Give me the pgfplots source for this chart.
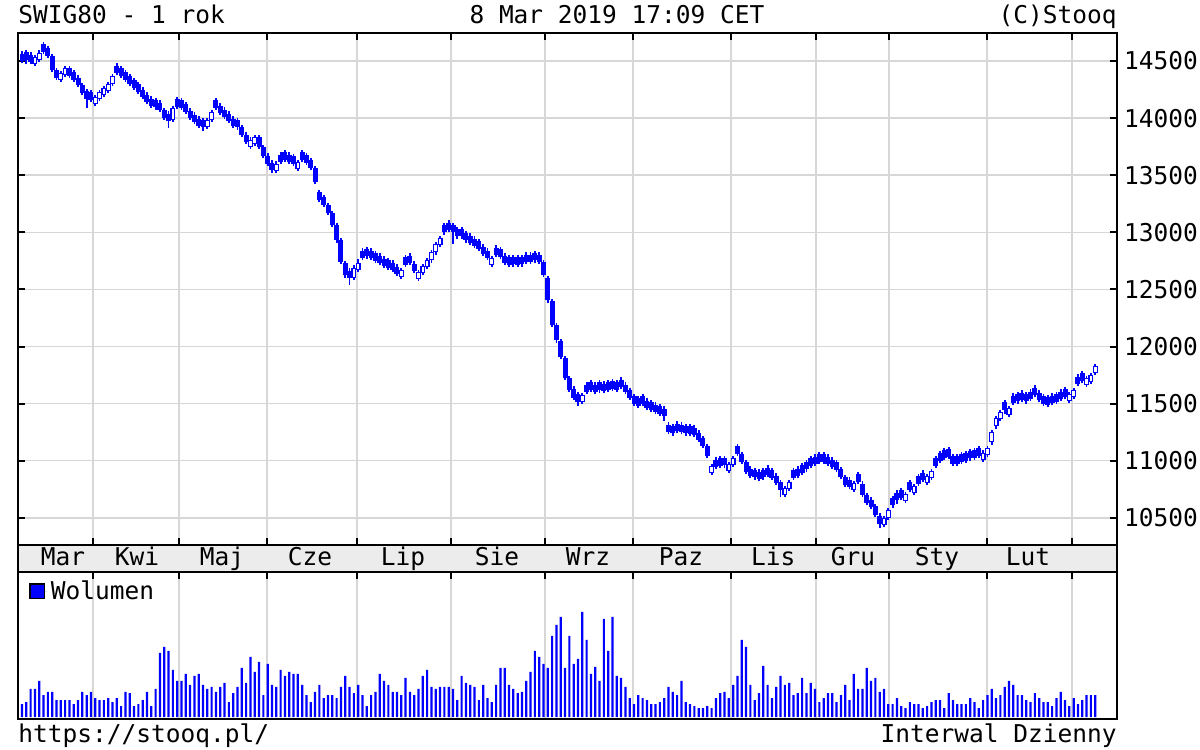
\documentclass[border=0pt]{standalone}
\usepackage{pgfplots}
\pgfplotsset{compat=1.18}
\usepackage{pgfplotstable}
\usepackage{fontspec}
\setmainfont{DejaVu Sans Mono}
\setmonofont{DejaVu Sans Mono}
\newcommand\stq{\fontsize{12.25pt}{14pt}\selectfont}
\definecolor{gridc}{RGB}{215,215,215}
\definecolor{stripc}{RGB}{236,236,236}

\pgfplotstableread{
i o h l c v
0 14565 14585 14480 14500 13
1 14575 14595 14470 14510 15
2 14555 14575 14470 14490 28
3 14475 14555 14455 14535 28
4 14510 14600 14490 14570 36
5 14645 14665 14560 14580 22
6 14610 14630 14525 14545 25
7 14540 14560 14400 14420 25
8 14420 14440 14330 14350 17
9 14335 14415 14315 14395 17
10 14380 14460 14360 14440 17
11 14440 14460 14350 14370 17
12 14400 14420 14315 14335 13
13 14355 14375 14270 14290 17
14 14290 14310 14200 14220 25
15 14235 14255 14090 14170 22
16 14225 14245 14140 14160 25
17 14125 14205 14105 14185 19
18 14170 14250 14150 14230 17
19 14205 14285 14185 14265 17
20 14240 14320 14220 14300 19
21 14300 14390 14280 14370 15
22 14460 14480 14375 14395 19
23 14435 14455 14350 14370 11
24 14400 14420 14315 14335 25
25 14365 14385 14280 14300 24
26 14330 14350 14245 14265 11
27 14295 14315 14210 14230 13
28 14250 14270 14165 14185 17
29 14205 14225 14120 14140 25
30 14170 14190 14085 14105 11
31 14160 14180 14075 14095 28
32 14135 14155 14050 14070 64
33 14070 14090 13980 14000 70
34 14040 14060 13915 13975 66
35 13985 14110 13965 14090 47
36 14165 14185 14080 14100 36
37 14155 14175 14070 14090 36
38 14120 14140 14035 14055 43
39 14065 14085 13980 14000 32
40 14030 14050 13945 13965 41
41 13995 14015 13910 13930 43
42 13985 14005 13890 13920 32
43 13925 14005 13905 13985 28
44 13985 14075 13965 14055 30
45 14155 14175 14070 14090 25
46 14110 14130 14025 14045 30
47 14075 14095 13990 14010 34
48 14040 14060 13955 13975 15
49 13995 14015 13910 13930 24
50 13985 14005 13900 13920 30
51 13920 13940 13830 13850 49
52 13855 13875 13770 13790 34
53 13750 13830 13730 13810 60
54 13775 13855 13755 13835 45
55 13830 13850 13725 13745 55
56 13745 13765 13650 13670 22
57 13670 13690 13580 13600 53
58 13610 13630 13515 13545 32
59 13540 13620 13520 13600 30
60 13680 13700 13595 13615 47
61 13700 13720 13615 13635 41
62 13680 13700 13595 13615 45
63 13665 13685 13580 13600 43
64 13555 13635 13535 13615 43
65 13700 13720 13615 13635 32
66 13675 13695 13590 13610 22
67 13630 13650 13545 13565 15
68 13560 13580 13420 13440 25
69 13350 13370 13265 13285 32
70 13305 13325 13220 13240 19
71 13240 13260 13150 13170 22
72 13170 13190 13045 13065 22
73 13060 13080 12910 12930 19
74 12930 12950 12720 12740 30
75 12730 12750 12600 12625 41
76 12665 12685 12540 12600 30
77 12600 12710 12580 12690 24
78 12670 12770 12650 12730 32
79 12840 12860 12755 12775 22
80 12855 12875 12770 12790 11
81 12840 12860 12755 12775 22
82 12815 12835 12730 12750 25
83 12795 12815 12710 12730 43
84 12770 12790 12685 12705 36
85 12755 12775 12670 12690 32
86 12735 12755 12650 12670 25
87 12700 12720 12615 12635 25
88 12610 12690 12590 12670 22
89 12780 12800 12695 12715 39
90 12795 12815 12710 12730 25
91 12725 12745 12640 12660 22
92 12590 12670 12570 12650 28
93 12645 12725 12625 12705 41
94 12695 12775 12675 12755 47
95 12755 12845 12735 12825 30
96 12825 12915 12805 12895 28
97 12890 12970 12870 12950 30
98 13065 13085 12980 13000 30
99 13085 13105 13000 13020 30
100 13065 13085 12900 13000 28
101 13030 13050 12945 12965 17
102 13030 13050 12945 12965 41
103 12995 13015 12910 12930 34
104 12970 12990 12885 12905 32
105 12945 12965 12860 12880 30
106 12920 12940 12835 12855 17
107 12875 12895 12790 12810 32
108 12840 12860 12755 12775 19
109 12715 12795 12695 12775 15
110 12865 12885 12780 12800 32
111 12850 12870 12765 12785 49
112 12795 12815 12710 12730 49
113 12780 12800 12695 12715 32
114 12785 12805 12700 12720 28
115 12780 12800 12695 12715 24
116 12785 12805 12700 12720 25
117 12805 12825 12720 12740 36
118 12805 12825 12720 12740 45
119 12820 12840 12735 12755 66
120 12805 12825 12720 12740 60
121 12740 12760 12605 12625 53
122 12600 12620 12385 12405 49
123 12400 12420 12170 12190 81
124 12190 12210 12035 12055 92
125 12050 12070 11890 11910 100
126 11900 11920 11705 11725 49
127 11720 11740 11600 11620 81
128 11630 11650 11530 11550 53
129 11580 11600 11480 11515 58
130 11515 11595 11495 11575 105
131 11665 11685 11580 11600 77
132 11685 11705 11600 11620 43
133 11665 11685 11580 11600 50
134 11685 11705 11590 11620 36
135 11675 11695 11590 11610 98
136 11685 11705 11600 11620 66
137 11695 11715 11610 11630 100
138 11685 11705 11600 11620 41
139 11710 11730 11625 11645 39
140 11665 11685 11580 11600 30
141 11615 11635 11530 11550 19
142 11565 11585 11480 11500 13
143 11545 11565 11460 11480 22
144 11565 11585 11480 11500 19
145 11525 11545 11440 11460 17
146 11510 11530 11425 11445 13
147 11490 11510 11405 11425 13
148 11475 11495 11390 11410 15
149 11455 11475 11350 11390 19
150 11315 11335 11230 11250 30
151 11305 11325 11220 11240 25
152 11325 11345 11240 11260 22
153 11315 11335 11230 11250 36
154 11305 11325 11220 11240 15
155 11300 11320 11215 11235 13
156 11290 11310 11205 11225 11
157 11245 11265 11160 11180 9
158 11195 11215 11110 11130 9
159 11130 11150 11020 11040 11
160 10895 10975 10875 10955 9
161 11010 11030 10925 10945 19
162 11020 11040 10935 10955 24
163 11025 11045 10940 10960 25
164 10910 10990 10890 10970 19
165 10965 11045 10945 11025 32
166 11125 11145 11040 11060 41
167 11060 11080 10970 10990 77
168 10990 11010 10880 10900 70
169 10930 10950 10845 10865 32
170 10920 10940 10835 10855 17
171 10905 10925 10820 10840 24
172 10920 10940 10835 10855 51
173 10940 10960 10855 10875 32
174 10915 10935 10830 10850 19
175 10870 10890 10785 10805 30
176 10810 10830 10680 10745 41
177 10700 10780 10680 10760 32
178 10755 10835 10735 10815 34
179 10915 10935 10830 10850 22
180 10930 10950 10845 10865 24
181 10960 10980 10875 10895 39
182 10990 11010 10905 10925 24
183 11020 11040 10935 10955 34
184 11035 11055 10950 10970 28
185 11055 11075 10970 10990 15
186 11055 11075 10970 10990 19
187 11035 11055 10950 10970 24
188 11010 11030 10925 10945 24
189 10985 11005 10900 10920 15
190 10925 10945 10840 10860 22
191 10855 10875 10770 10790 32
192 10835 10855 10750 10770 17
193 10745 10825 10725 10805 43
194 10880 10900 10795 10815 28
195 10800 10820 10680 10700 28
196 10700 10720 10610 10630 49
197 10660 10680 10575 10595 36
198 10600 10620 10505 10525 39
199 10520 10540 10410 10445 25
200 10440 10520 10420 10500 28
201 10500 10590 10480 10570 13
202 10675 10695 10590 10610 13
203 10720 10740 10620 10655 19
204 10740 10760 10655 10675 11
205 10650 10730 10630 10710 9
206 10810 10830 10725 10745 15
207 10720 10800 10700 10780 13
208 10865 10885 10780 10800 13
209 10895 10915 10810 10830 9
210 10805 10885 10785 10865 11
211 10850 10930 10830 10910 15
212 11020 11040 10935 10955 17
213 11065 11085 10980 11000 17
214 11090 11110 11005 11025 9
215 11100 11120 11015 11035 24
216 11040 11060 10955 10975 17
217 11040 11060 10955 10975 13
218 11055 11075 10970 10990 13
219 11065 11085 10980 11000 13
220 11085 11105 11000 11020 19
221 11090 11110 11005 11025 15
222 11110 11130 11025 11045 9
223 11010 11090 10990 11070 17
224 11050 11130 11030 11110 22
225 11160 11270 11140 11250 28
226 11300 11395 11280 11375 19
227 11365 11445 11345 11425 22
228 11510 11530 11410 11445 30
229 11400 11480 11380 11460 36
230 11570 11590 11485 11505 32
231 11585 11605 11500 11520 22
232 11595 11615 11510 11530 22
233 11585 11605 11500 11520 17
234 11605 11625 11520 11540 15
235 11640 11660 11555 11575 24
236 11595 11615 11510 11530 19
237 11565 11585 11480 11500 15
238 11555 11575 11470 11490 15
239 11570 11590 11485 11505 11
240 11580 11600 11495 11515 19
241 11605 11625 11520 11540 25
242 11625 11645 11540 11560 17
243 11525 11605 11505 11585 11
244 11560 11640 11540 11620 19
245 11735 11755 11650 11670 13
246 11765 11785 11680 11700 17
247 11665 11745 11645 11725 22
248 11690 11770 11670 11750 22
249 11770 11850 11750 11830 22
}\data

\pgfplotsset{
  stq base/.style={scale only axis, width=549.5pt, xmin=-0.93, xmax=254.06,
    axis line style={line width=1pt, black},
    tick style={line width=1pt, black},
    tick align=inside, major tick length=3.5pt,
    tick label style={font=\stq},
    /pgf/number format/assume math mode=true,
    /pgf/number format/1000 sep={},
  },
}

\begin{document}
\begin{tikzpicture}
\useasboundingbox (0,0) rectangle (600pt,375pt);
% price panel
\begin{axis}[stq base, at={(9pt,102.5pt)}, anchor=south west, height=256pt,
  ymin=10262, ymax=14745,
  xtick={16.47,36.43,56.84,77.73,99.54,121.35,141.76,164.5,184.2,201.2,223.9,243.6},
  xticklabels={}, xtick pos=both,
  ytick={10500,11000,...,14500}, scaled y ticks=false,
  yticklabel pos=right, ytick pos=both,
  grid=major, grid style={gridc, line width=0.75pt},
]
\addplot[draw=none, mark=none, forget plot,
  error bars/.cd, y dir=plus, y explicit, error mark=none,
  error bar style={draw=blue, line width=0.9pt}]
  table[x=i, y=l, y error plus expr={\thisrow{h}-\thisrow{l}}] {\data};
\addplot[draw=none, mark=none, forget plot,
  error bars/.cd, y dir=plus, y explicit, error mark=none,
  error bar style={draw=blue, line width=2.5pt}]
  table[x=i, y expr={min(\thisrow{o},\thisrow{c})}, y error plus expr={abs(\thisrow{c}-\thisrow{o})}] {\data};
\addplot[draw=none, mark=none, forget plot,
  restrict expr to domain={\thisrow{c}-\thisrow{o}}{20:100000},
  error bars/.cd, y dir=plus, y explicit, error mark=none,
  error bar style={draw=white, line width=1.3pt}]
  table[x=i, y expr={\thisrow{o}+8.75}, y error plus expr={\thisrow{c}-\thisrow{o}-17.5}] {\data};
\end{axis}
% month strip
\begin{axis}[stq base, at={(9pt,89pt)}, anchor=south west, height=13.5pt,
  ymin=0, ymax=1, ytick=\empty,
  xtick={9.5,26.7,46.4,66.8,88.4,110.2,131.3,152.9,174.3,192.8,212.3,233.4},
  xticklabels={Mar,Kwi,Maj,Cze,Lip,Sie,Wrz,Paz,Lis,Gru,Sty,Lut},
  major tick length=0pt,
  xticklabel style={anchor=base, yshift=3pt},
  axis background/.style={fill=stripc}]
\end{axis}
% volume panel
\begin{axis}[stq base, at={(9pt,15.5pt)}, anchor=south west, height=73.5pt,
  ymin=-2, ymax=145, ytick=\empty,
  xtick={16.47,36.43,56.84,77.73,99.54,121.35,141.76,164.5,184.2,201.2,223.9,243.6},
  xticklabels={}, xtick pos=right, xmajorgrids, grid style={gridc, line width=0.75pt},
  legend style={at={(0,1)}, anchor=north west, draw=none, fill=none, font=\stq,
    xshift=5.5pt, yshift=-2pt, inner sep=0pt},
  legend image code/.code={\draw[fill=blue, draw=black, line width=0.6pt] (0pt,-3.6pt) rectangle (7.2pt,3.6pt); \path (0pt,0pt) -- (8.5pt,0pt);},
]
\addplot[ybar, bar width=1.1pt, bar shift=0pt, fill=blue, draw=none] table[x=i, y=v] {\data};
\addlegendentry{Wolumen}
\end{axis}
\node[font=\stq, anchor=base west, inner sep=0pt] at (9pt,363pt) {SWIG80 - 1 rok};
\node[font=\stq, anchor=base, inner sep=0pt] at (308.5pt,363pt) {8 Mar 2019 17:09 CET};
\node[font=\stq, anchor=base east, inner sep=0pt] at (558.5pt,363pt) {(C)Stooq};
\node[font=\stq, anchor=base west, inner sep=0pt] at (9pt,3.5pt) {https://stooq.pl/};
\node[font=\stq, anchor=base east, inner sep=0pt] at (558.5pt,3.5pt) {Interwal Dzienny};
\end{tikzpicture}
\end{document}
